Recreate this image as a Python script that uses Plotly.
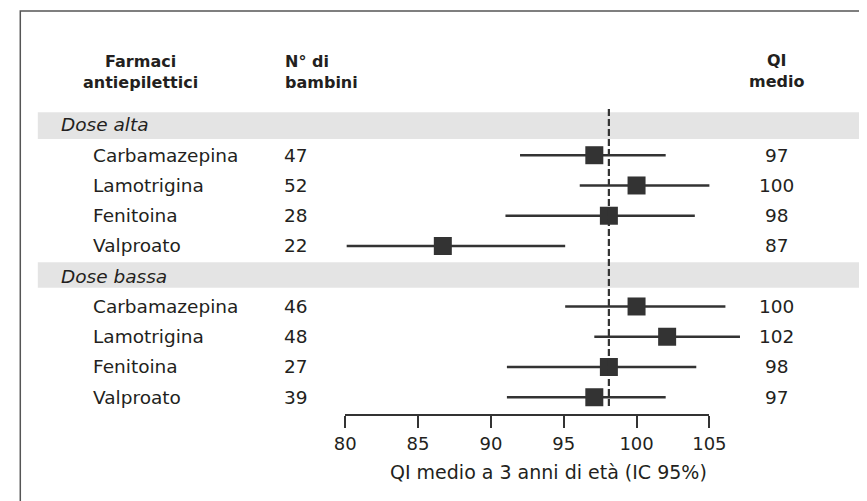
import plotly.graph_objects as go

# ---- data ----
groups = ["Dose alta", "Dose bassa"]
drugs = ["Carbamazepina", "Lamotrigina", "Fenitoina", "Valproato"]
n_high = [47, 52, 28, 22]
n_low = [46, 48, 27, 39]
qi_label_high = [97, 100, 98, 87]
qi_label_low = [100, 102, 98, 97]
mean_high = [97.1, 100.0, 98.1, 86.7]
mean_low = [100.0, 102.1, 98.1, 97.1]
ci_lo_high = [92.0, 96.1, 91.0, 80.1]
ci_hi_high = [102.0, 105.0, 104.0, 95.1]
ci_lo_low = [95.1, 97.1, 91.1, 91.1]
ci_hi_low = [106.1, 107.1, 104.1, 102.0]
ref_value = 98.1
tick_vals = [80, 85, 90, 95, 100, 105]
x_title = "QI medio a 3 anni di età (IC 95%)"
head_drug = "Farmaci<br>antiepilettici"
head_n = "N° di<br>bambini"
head_qi = "QI<br>medio"

# ---- layout geometry (screen pixels; page body has an 8px margin) ----
W, H = 867, 501
OFF = 8
L, R, T, B = 20, 857, 108, 414   # plot area on screen
PXU = 14.96                       # pixels per IQ unit
X80 = 342.7                       # screen pixel of value 80

def px(p):
    return (p - L) / (R - L)

def py(p):
    return (B - p) / (B - T)

xr = [80 + (L - X80) / PXU, 80 + (R - X80) / PXU]

# row indices: 0 = high-dose band, 1..4 drugs, 5 = low-dose band, 6..9 drugs
rows_high = [1, 2, 3, 4]
rows_low = [6, 7, 8, 9]
group_rows = [0, 5]

ys = rows_high + rows_low
means = mean_high + mean_low
los = ci_lo_high + ci_lo_low
his = ci_hi_high + ci_hi_low

DARK = "#333333"
TXT = "#231f20"
FONT = "DejaVu Sans"

fig = go.Figure()
fig.add_trace(go.Scatter(
    x=means, y=ys, mode="markers",
    marker=dict(symbol="square", size=18, color=DARK, line=dict(width=0)),
    error_x=dict(type="data", symmetric=False,
                 array=[h - m for h, m in zip(his, means)],
                 arrayminus=[m - l for m, l in zip(means, los)],
                 width=0, thickness=2.4, color=DARK),
    cliponaxis=False, showlegend=False, hoverinfo="skip",
))
# invisible trace so that the visible scale axis (x2) is drawn
fig.add_trace(go.Scatter(
    x=[tick_vals[0], tick_vals[-1]], y=[0, 0], xaxis="x2", yaxis="y",
    mode="markers", marker=dict(opacity=0), showlegend=False, hoverinfo="skip",
))

shapes = []
# outer frame
shapes.append(dict(type="rect", xref="paper", yref="paper",
                   x0=px(9), x1=px(905), y0=py(11), y1=py(540),
                   line=dict(color="#555555", width=1.5), fillcolor="rgba(0,0,0,0)"))
# group bands
for (top, bot) in [(112.3, 139.0), (262.3, 287.7)]:
    shapes.append(dict(type="rect", xref="paper", yref="paper",
                       x0=px(27), x1=px(905), y0=py(bot), y1=py(top),
                       line=dict(width=0), fillcolor="#e4e4e4", layer="below"))
# reference dashed line
shapes.append(dict(type="line", xref="x", yref="paper",
                   x0=ref_value, x1=ref_value, y0=py(406), y1=py(108),
                   line=dict(color=DARK, width=2.2, dash="7px,3px")))

ann = []
tf = dict(family=FONT, size=18.5, color=TXT)
for g, r in zip(groups, group_rows):
    ann.append(dict(x=px(49), y=r, xref="paper", yref="y", text="<i>%s</i>" % g,
                    showarrow=False, xanchor="left", yanchor="middle", font=tf))
for rows, ns, qs in [(rows_high, n_high, qi_label_high), (rows_low, n_low, qi_label_low)]:
    for d, r, n, q in zip(drugs, rows, ns, qs):
        ann.append(dict(x=px(82), y=r, xref="paper", yref="y", text=d,
                        showarrow=False, xanchor="left", yanchor="middle", font=tf))
        ann.append(dict(x=px(292.5), y=r, xref="paper", yref="y", text=str(n),
                        showarrow=False, xanchor="center", yanchor="middle", font=tf))
        ann.append(dict(x=px(786), y=r, xref="paper", yref="y", text=str(q),
                        showarrow=False, xanchor="center", yanchor="middle", font=tf))

hf = dict(family=FONT, size=16, color=TXT)
ann.append(dict(x=px(132), y=py(72), xref="paper", yref="paper", text="<b>%s</b>" % head_drug,
                showarrow=False, xanchor="center", yanchor="middle", align="center", font=hf))
ann.append(dict(x=px(279), y=py(72), xref="paper", yref="paper", text="<b>%s</b>" % head_n,
                showarrow=False, xanchor="left", yanchor="middle", align="left", font=hf))
ann.append(dict(x=px(785.5), y=py(71), xref="paper", yref="paper", text="<b>%s</b>" % head_qi,
                showarrow=False, xanchor="center", yanchor="middle", align="center", font=hf))
ann.append(dict(x=px(551), y=py(471.7), xref="paper", yref="paper", text=x_title,
                showarrow=False, xanchor="center", yanchor="middle",
                font=dict(family=FONT, size=19, color=TXT)))

fig.update_layout(
    width=W, height=H,
    margin=dict(l=L - OFF, r=W - (R - OFF), t=T - OFF, b=H - (B - OFF), pad=0),
    paper_bgcolor="white", plot_bgcolor="rgba(0,0,0,0)",
    showlegend=False,
    xaxis=dict(range=xr, domain=[0, 1], visible=False, fixedrange=True),
    xaxis2=dict(range=[80, 105], domain=[px(X80), px(X80 + 25 * PXU)], anchor="y",
                tickvals=tick_vals, ticks="outside", ticklen=12, tickwidth=2, tickcolor=DARK,
                showline=True, linewidth=2, linecolor=DARK, showgrid=False, zeroline=False,
                tickfont=dict(family=FONT, size=18, color=TXT), fixedrange=True),
    yaxis=dict(range=[9.554, -0.561], visible=False, fixedrange=True),
    shapes=shapes, annotations=ann,
)

fig.write_html("out.html")
